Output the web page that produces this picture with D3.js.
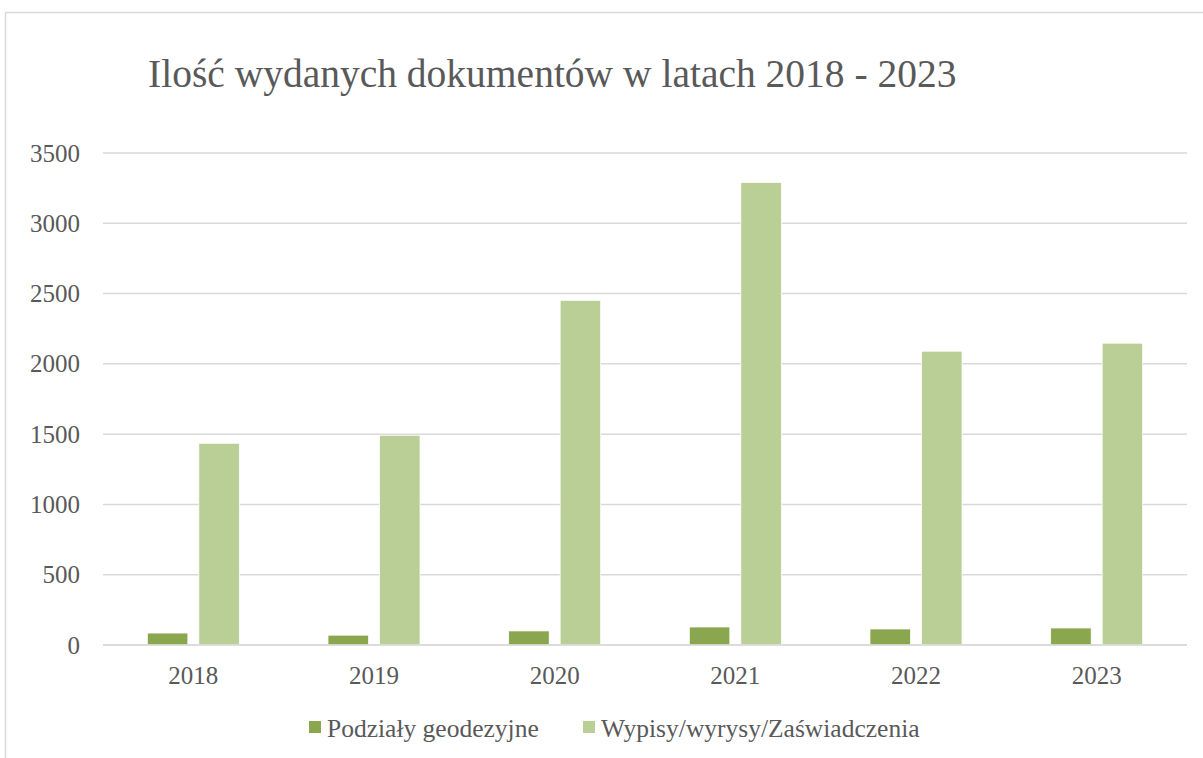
<!DOCTYPE html>
<html><head><meta charset="utf-8">
<script src="https://cdn.jsdelivr.net/npm/d3@7"></script>
<style>body{margin:0;background:#fff}svg{display:block}</style>
</head><body>
<script>
const years = ["2018","2019","2020","2021","2022","2023"];
const seriesNames = ["Podziały geodezyjne","Wypisy/wyrysy/Zaświadczenia"];
const podzialy = [85, 70, 100, 128, 114, 121];
const wypisy = [1435, 1492, 2452, 3290, 2090, 2147];
const yTicks = [0,500,1000,1500,2000,2500,3000,3500];
const colors = ["#8aa64e","#bacf96"];

(function(){
const W = 1203, H = 758;
const font = "'Liberation Serif', 'DejaVu Serif', serif";
const svg = d3.select("body").append("svg").attr("width", W).attr("height", H);

svg.append("path").attr("d", `M5.5,${H} L5.5,12.5 L${W},12.5`)
  .attr("fill","none").attr("stroke","#d9d9d9").attr("stroke-width",1.5);

svg.append("text").attr("x",148).attr("y",87)
  .attr("font-family",font).attr("font-size",39.5).attr("fill","#595959")
  .text("Ilość wydanych dokumentów w latach 2018 - 2023");

const pl = 103, pr = 1187, pt = 153, pb = 645;
const y = d3.scaleLinear().domain([0,3500]).range([pb, pt]);
const x0 = d3.scaleBand().domain(years).range([pl, pr]).paddingInner(0).paddingOuter(0);

svg.append("g").selectAll("line").data(yTicks).join("line")
  .attr("x1",pl).attr("x2",pr)
  .attr("y1",d=>y(d)).attr("y2",d=>y(d))
  .attr("stroke","#d9d9d9").attr("stroke-width",1.5);

const yAxis = d3.axisLeft(y).tickValues(yTicks).tickSize(0).tickPadding(0).tickFormat(d3.format("d"));
const ya = svg.append("g").attr("transform",`translate(80,0)`).call(yAxis);
ya.select(".domain").remove();
ya.selectAll("text").attr("font-family",font).attr("font-size",25).attr("fill","#595959");

const barW = 40.5, gap = 11;
const data = years.map((yr,i)=>({yr, vals:[podzialy[i], wypisy[i]]}));
const g = svg.append("g");
data.forEach(d=>{
  const c = x0(d.yr) + x0.bandwidth()/2;
  d.vals.forEach((v,j)=>{
    const xs = j===0 ? c - gap/2 - barW : c + gap/2;
    g.append("rect").attr("x",xs).attr("width",barW)
      .attr("y",y(v)).attr("height",y(0)-y(v))
      .attr("fill",colors[j]).attr("stroke","#ffffff").attr("stroke-width",0.75);
  });
});

svg.append("line").attr("x1",pl).attr("x2",pr).attr("y1",y(0)).attr("y2",y(0))
  .attr("stroke","#d9d9d9").attr("stroke-width",1.5);

const xAxis = d3.axisBottom(x0).tickSize(0).tickPadding(0);
const xa = svg.append("g").attr("transform",`translate(0,${pb+39})`).call(xAxis);
xa.select(".domain").remove();
xa.selectAll("text").attr("font-family",font).attr("font-size",25).attr("fill","#595959").attr("dy",0).attr("y",0);

const legX = [309, 583];
const lg = svg.append("g");
seriesNames.forEach((n,i)=>{
  lg.append("rect").attr("x",legX[i]).attr("y",721).attr("width",12).attr("height",12).attr("fill",colors[i]);
  lg.append("text").attr("x",legX[i]+18).attr("y",737)
    .attr("font-family",font).attr("font-size",25.5).attr("fill","#595959").text(n);
});
})();
</script>
</body></html>
